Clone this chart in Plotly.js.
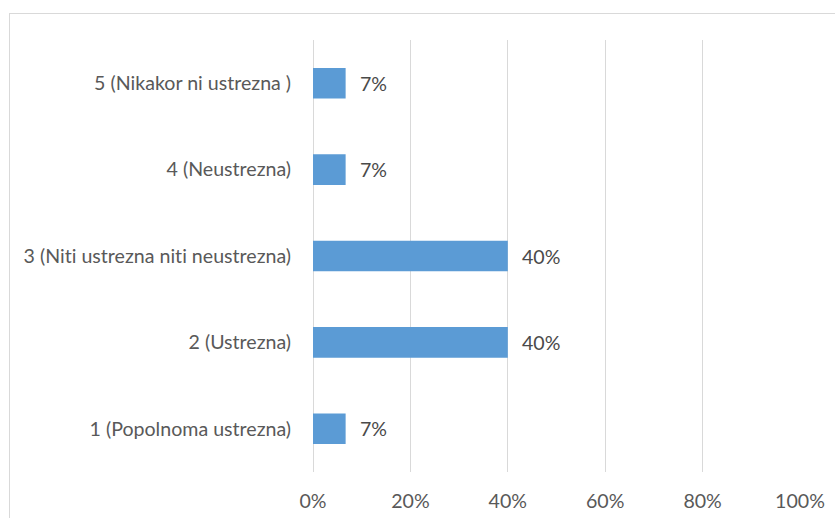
<!DOCTYPE html>
<html>
<head>
<meta charset="utf-8">
<script src="https://cdn.plot.ly/plotly-3.0.1.min.js"></script>
<style>
  html, body { margin:0; padding:0; width:835px; height:518px; overflow:hidden; background:#fff; }
  #chart { position:absolute; left:0; top:0; width:835px; height:518px; }
  #frame { position:absolute; left:9px; top:13px; width:900px; height:600px; border:1.5px solid #d9d9d9; pointer-events:none; }
  #chart text { font-variant-ligatures: none; font-feature-settings: "liga" 0; }
</style>
</head>
<body>
<div id="chart"></div>
<div id="frame"></div>
<script>
const categories = ["1 (Popolnoma ustrezna)", "2 (Ustrezna)", "3 (Niti ustrezna niti neustrezna)", "4 (Neustrezna)", "5 (Nikakor ni ustrezna )"];
const values = [0.067, 0.40, 0.40, 0.067, 0.067];
const xTicks = [0, 0.2, 0.4, 0.6, 0.8, 1.0];

const fontFamily = "Lato, 'Liberation Sans', sans-serif";
const fontSize = 19.6;

const trace = {
  type: "bar",
  orientation: "h",
  y: categories,
  x: values,
  marker: { color: "#5B9BD5" },
  hoverinfo: "none"
};

const annotations = categories.map((c, i) => ({
  x: values[i], y: c, xref: "x", yref: "y",
  text: Math.round(values[i] * 100) + "%",
  showarrow: false, xanchor: "left", xshift: 12,
  font: { family: fontFamily, size: fontSize, color: "#4a4a4a" }
}));

const layout = {
  width: 835, height: 518,
  margin: { l: 313, r: 35, t: 40, b: 46, pad: 0 },
  paper_bgcolor: "rgba(0,0,0,0)",
  plot_bgcolor: "rgba(0,0,0,0)",
  bargap: 0.646,
  showlegend: false,
  font: { family: fontFamily, size: fontSize, color: "#595959" },
  xaxis: {
    range: [0, 1],
    tickvals: xTicks,
    tickformat: ".0%",
    showgrid: true, gridcolor: "#d9d9d9", gridwidth: 1,
    zeroline: true, zerolinecolor: "#d9d9d9", zerolinewidth: 1,
    showline: false,
    ticks: "outside", ticklen: 11, tickcolor: "rgba(0,0,0,0)",
    tickfont: { family: fontFamily, size: fontSize, color: "#595959" },
    fixedrange: true
  },
  yaxis: {
    type: "category",
    categoryorder: "array", categoryarray: categories,
    showgrid: false, zeroline: false, showline: false,
    ticks: "outside", ticklen: 17, tickcolor: "rgba(0,0,0,0)",
    tickfont: { family: fontFamily, size: fontSize, color: "#595959" },
    fixedrange: true
  },
  annotations: annotations
};

Plotly.newPlot("chart", [trace], layout, { displayModeBar: false, staticPlot: true });
</script>
</body>
</html>
